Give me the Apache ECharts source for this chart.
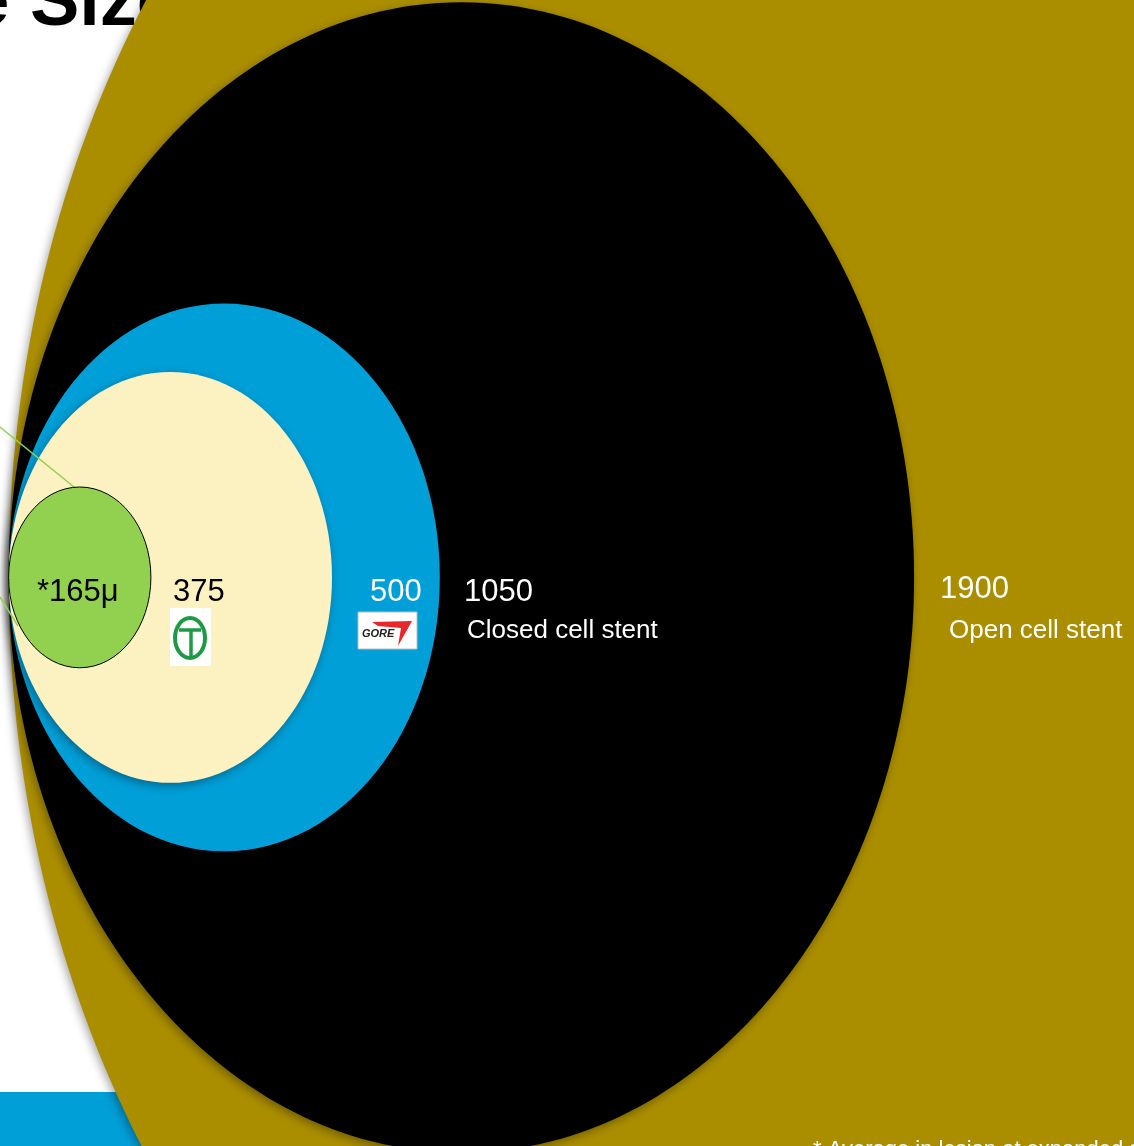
<!DOCTYPE html>
<html>
<head>
<meta charset="utf-8">
<script src="https://cdn.jsdelivr.net/npm/echarts@6/dist/echarts.min.js"></script>
<style>html,body{margin:0;padding:0;background:#fff;}#chart{width:1134px;height:1146px;}</style>
</head>
<body>
<div id="chart"></div>
<script>
// Particle sizes (microns), drawn largest first
var sizes = [1900, 1050, 500, 375, 165];
var sizeLabels = ['1900', '1050', '500', '375', '*165\u03bc'];
var descriptions = ['Open cell stent', 'Closed cell stent', '', '', ''];
var fills = ['#AB8E00', '#000000', '#009FD8', '#FCF1C0', '#92D050'];
var titleText = 'Particle Size';
var footnote = '* Average in lesion at expanded state';

var chart = echarts.init(document.getElementById('chart'), null, {renderer: 'canvas'});
var font = '"Liberation Sans", Arial, sans-serif';

function txt(t, x, y, size, color) {
  return {type: 'text', z: 10, style: {text: t, x: x, y: y, fill: color,
    font: size + 'px ' + font,
    textAlign: 'left', textVerticalAlign: 'middle', align: 'left', verticalAlign: 'middle'}};
}

var option = {
  backgroundColor: '#ffffff',
  animation: false,
  grid: {left: 0, right: 0, top: 0, bottom: 0},
  xAxis: {type: 'value', min: -10, max: 1305, show: false},
  yAxis: {type: 'value', min: -519, max: 527, show: false},
  graphic: {elements: [
    {type: 'text', z: 0, style: {text: titleText, x: -258, y: 5, fill: '#000',
      font: 'bold 74px ' + font, textAlign: 'left', textVerticalAlign: 'middle', align: 'left', verticalAlign: 'middle'}},
    {type: 'rect', z: 0, shape: {x: 0, y: 1092, width: 300, height: 60}, style: {fill: '#009FD8'}},
    // labels
    txt(sizeLabels[4], 37, 592, 31, '#000'),
    txt(sizeLabels[3], 173, 592, 31, '#000'),
    txt(sizeLabels[2], 370, 592, 31, '#fff'),
    txt(sizeLabels[1], 464, 592, 31, '#fff'),
    txt(descriptions[1], 467, 631, 26, '#fff'),
    txt(sizeLabels[0], 940, 589, 31, '#fff'),
    txt(descriptions[0], 949, 631, 26, '#fff'),
    txt(footnote, 813, 1150, 22, '#fff'),
    // T logo
    {type: 'rect', z: 10, shape: {x: 170, y: 608, width: 41, height: 58}, style: {fill: '#fff'}},
    {type: 'ellipse', z: 11, shape: {cx: 190, cy: 638, rx: 15, ry: 20}, style: {fill: 'none', stroke: '#1E9A45', lineWidth: 4}},
    {type: 'line', z: 11, shape: {x1: 179, y1: 630, x2: 201, y2: 630}, style: {stroke: '#1E9A45', lineWidth: 3.5}},
    {type: 'line', z: 11, shape: {x1: 191, y1: 630, x2: 191, y2: 656}, style: {stroke: '#1E9A45', lineWidth: 3.5}},
    // GORE logo
    {type: 'rect', z: 10, shape: {x: 358, y: 612, width: 59, height: 37}, style: {fill: '#fff', stroke: '#bbb', lineWidth: 1}},
    {type: 'polygon', z: 11, shape: {points: [[372, 622], [412, 621], [398, 646], [401, 628], [378, 626]]}, style: {fill: '#E8262B'}},
    {type: 'text', z: 12, style: {text: 'GORE', x: 362, y: 634, fill: '#222', font: 'italic bold 11px ' + font,
      textAlign: 'left', textVerticalAlign: 'middle', align: 'left', verticalAlign: 'middle'}}
  ]},
  series: [{
    type: 'custom',
    coordinateSystem: 'cartesian2d',
    z: 2,
    data: sizes.map(function (d) { return [d]; }),
    renderItem: function (params, api) {
      var d = api.value(0);
      var c = api.coord([d / 2, 0]);
      var s = api.size([d, d]);
      var i = params.dataIndex;
      var isSmall = i === sizes.length - 1;
      var ell = {
        type: 'ellipse',
        shape: {cx: c[0], cy: c[1], rx: s[0] / 2, ry: s[1] / 2},
        style: isSmall ? {fill: fills[i], stroke: '#000', lineWidth: 1} : {
          fill: fills[i],
          shadowBlur: 10,
          shadowColor: 'rgba(0,0,0,0.35)',
          shadowOffsetX: -2,
          shadowOffsetY: 3
        }
      };
      if (!isSmall) return ell;
      // zoom guide lines to the smallest particle, drawn beneath it
      return {type: 'group', children: [
        {type: 'line', shape: {x1: 0, y1: 427, x2: 100, y2: 508}, style: {stroke: '#92D050', lineWidth: 1.5}},
        {type: 'line', shape: {x1: 0, y1: 597, x2: 18, y2: 626}, style: {stroke: '#92D050', lineWidth: 1.5}},
        ell
      ]};
    }
  }]
};
chart.setOption(option);
</script>
</body>
</html>
